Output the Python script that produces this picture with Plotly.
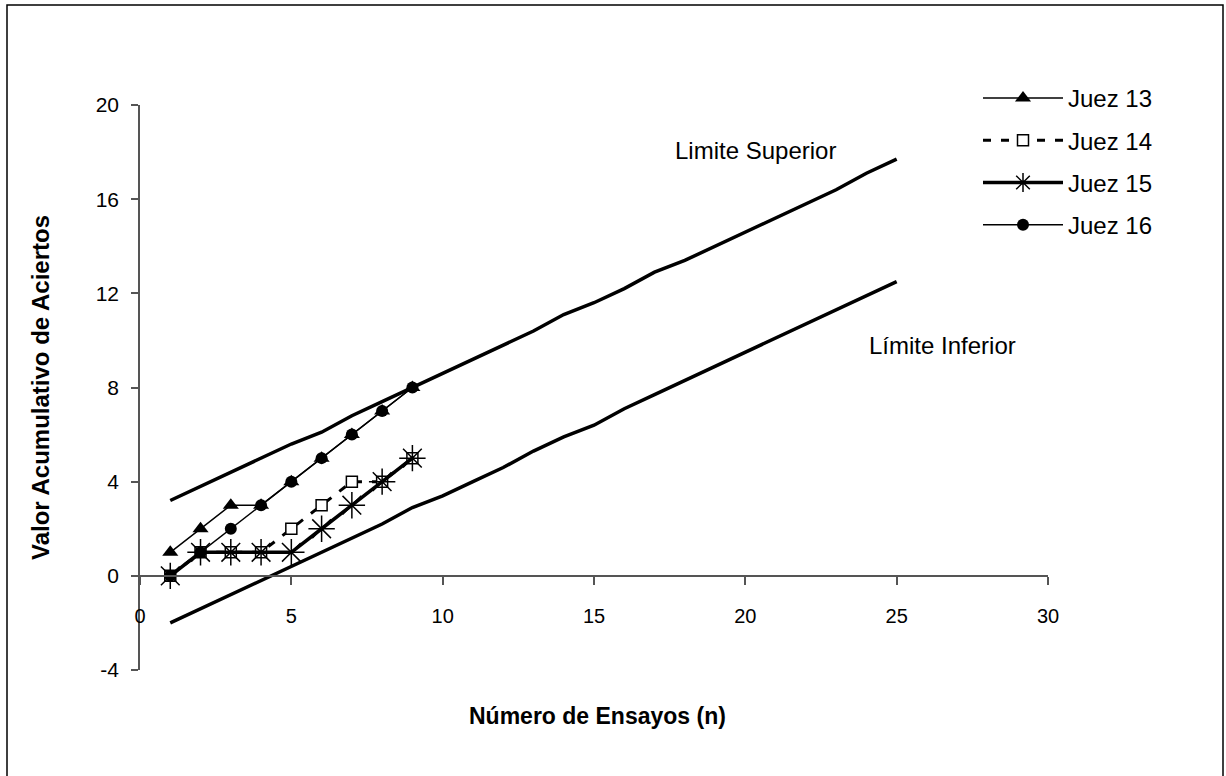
import plotly.graph_objects as go

# ---- data ----
n_judges = [1, 2, 3, 4, 5, 6, 7, 8, 9]
juez13 = [1, 2, 3, 3, 4, 5, 6, 7, 8]
juez14 = [0, 1, 1, 1, 2, 3, 4, 4, 5]
juez15 = [0, 1, 1, 1, 1, 2, 3, 4, 5]
juez16 = [0, 1, 2, 3, 4, 5, 6, 7, 8]

n_limits = list(range(1, 26))
limite_superior = [3.2, 3.8, 4.4, 5.0, 5.6, 6.1, 6.8, 7.4, 8.0, 8.6, 9.2, 9.8, 10.4,
                   11.1, 11.6, 12.2, 12.9, 13.4, 14.0, 14.6, 15.2, 15.8, 16.4, 17.1, 17.7]
limite_inferior = [-2.0, -1.4, -0.8, -0.2, 0.4, 1.0, 1.6, 2.2, 2.9, 3.4, 4.0, 4.6, 5.3,
                   5.9, 6.4, 7.1, 7.7, 8.3, 8.9, 9.5, 10.1, 10.7, 11.3, 11.9, 12.5]

x_ticks = [0, 5, 10, 15, 20, 25, 30]
y_ticks = [-4, 0, 4, 8, 12, 16, 20]
y_tick_labels = ["-4", "0", "4", "8", "12", "16", "20"]

# ---- layout geometry (pixels) ----
W, H = 1226, 776
L, R, T, B = 140, 178, 105, 106
pw, ph = W - L - R, H - T - B


def px2paper_x(px):
    return (px - L) / pw


def px2paper_y(py):
    return (H - B - py) / ph


FONT = "Liberation Sans, Arial, sans-serif"

fig = go.Figure()

fig.add_trace(go.Scatter(x=n_limits, y=limite_superior, mode="lines",
                         line=dict(color="black", width=3.5), showlegend=False,
                         hoverinfo="skip"))
fig.add_trace(go.Scatter(x=n_limits, y=limite_inferior, mode="lines",
                         line=dict(color="black", width=3.5), showlegend=False,
                         hoverinfo="skip"))

fig.add_trace(go.Scatter(x=n_judges, y=juez13, mode="lines+markers", name="Juez 13",
                         legendgroup="a",
                         line=dict(color="black", width=1.5),
                         marker=dict(symbol="triangle-up", size=14, color="black")))
fig.add_trace(go.Scatter(x=n_judges, y=juez14, mode="lines+markers", name="Juez 14",
                         legendgroup="b",
                         line=dict(color="black", width=3, dash="8px,10px"),
                         marker=dict(symbol="square", size=11, color="white",
                                     line=dict(color="black", width=1.5))))
fig.add_trace(go.Scatter(x=n_judges, y=juez15, mode="lines+markers", name="Juez 15",
                         legendgroup="c",
                         line=dict(color="black", width=3.5),
                         marker=dict(symbol="asterisk-open", size=22,
                                     line=dict(color="black", width=1.5))))
fig.add_trace(go.Scatter(x=n_judges, y=juez16, mode="lines+markers", name="Juez 16",
                         legendgroup="d",
                         line=dict(color="black", width=1.5),
                         marker=dict(symbol="circle", size=12, color="black")))

fig.update_layout(
    width=W, height=H,
    margin=dict(l=L, r=R, t=T, b=B),
    paper_bgcolor="white", plot_bgcolor="white",
    font=dict(family=FONT, size=18, color="black"),
    legend=dict(x=px2paper_x(978), y=px2paper_y(76), xanchor="left", yanchor="top",
                bgcolor="rgba(0,0,0,0)", font=dict(size=24, family=FONT),
                tracegroupgap=8, itemwidth=80),
    xaxis=dict(range=[0, 30], tickvals=x_ticks, showgrid=False, zeroline=False,
               showline=True, linecolor="#555", linewidth=1.5,
               ticks="outside", ticklen=8, tickcolor="#555", tickwidth=1.5,
               anchor="free", position=4 / 24, ticklabelstandoff=14,
               tickfont=dict(size=20, family=FONT)),
    yaxis=dict(range=[-4, 20], tickvals=y_ticks, ticktext=y_tick_labels,
               showgrid=False, zeroline=False,
               showline=True, linecolor="#555", linewidth=1.5,
               ticks="outside", ticklen=7, tickcolor="#555", tickwidth=1.5,
               tickfont=dict(size=21, family=FONT), ticklabelstandoff=8),
    showlegend=True,
)

fig.add_annotation(text="<b>Valor Acumulativo de Aciertos</b>", xref="paper", yref="paper",
                   x=px2paper_x(40), y=px2paper_y(388), textangle=-90, showarrow=False,
                   xanchor="center", yanchor="middle",
                   font=dict(size=24, family=FONT))
fig.add_annotation(text="<b>Número de Ensayos (n)</b>", xref="paper", yref="paper",
                   x=px2paper_x(597), y=px2paper_y(716), showarrow=False,
                   xanchor="center", yanchor="middle",
                   font=dict(size=23, family=FONT))
fig.add_annotation(text="Limite Superior", xref="paper", yref="paper",
                   x=px2paper_x(755), y=px2paper_y(150), showarrow=False,
                   xanchor="center", yanchor="middle",
                   font=dict(size=24, family=FONT))
fig.add_annotation(text="Límite Inferior", xref="paper", yref="paper",
                   x=px2paper_x(942), y=px2paper_y(345), showarrow=False,
                   xanchor="center", yanchor="middle",
                   font=dict(size=24, family=FONT))

fig.add_shape(type="rect", xref="paper", yref="paper",
              x0=px2paper_x(7), x1=px2paper_x(1223), y0=px2paper_y(780), y1=px2paper_y(5),
              line=dict(color="black", width=1.5), fillcolor="rgba(0,0,0,0)", layer="below")

fig.write_html("out.html")
